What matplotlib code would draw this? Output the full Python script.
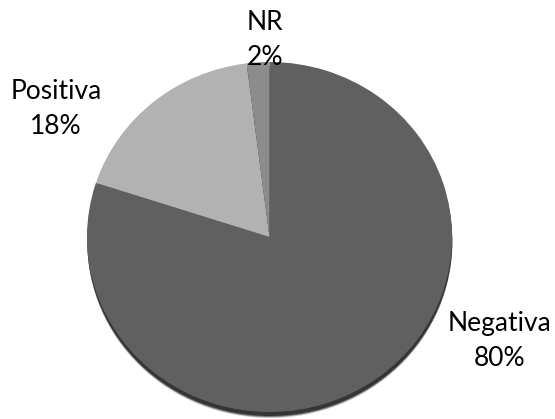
import matplotlib
matplotlib.use("Agg")
import matplotlib.pyplot as plt
from matplotlib.patches import Ellipse

categories = ["Negativa", "Positiva", "NR"]
values = [80, 18, 2]
colors = ["#606060", "#b2b2b2", "#8c8c8c"]

W, H = 555, 419
fig = plt.figure(figsize=(W / 100, H / 100), dpi=100)
ax = fig.add_axes([0, 0, 1, 1])

# pie centre and radii in pixels
cx, cy = 269.5, 237.0
rx, ry = 182.5, 175.0

# soft drop shadow under the pie
for off, a in [(6, 0.25), (5, 0.5), (4, 0.85)]:
    ax.add_patch(Ellipse((0.3 / rx, -off / ry), 2, 2, facecolor="#2a2a2a",
                         edgecolor="none", alpha=a, zorder=0))

ax.pie(values, colors=colors, startangle=90, counterclock=False, radius=1,
       wedgeprops=dict(linewidth=0, zorder=1), normalize=True)

ax.set_xlim(-cx / rx, (W - cx) / rx)
ax.set_ylim(-(H - cy) / ry, cy / ry)
ax.set_aspect("auto")
ax.axis("off")

font = dict(family=["Lato", "DejaVu Sans"], fontsize=19, color="#000000",
            ha="center", va="center", linespacing=1.5)


def put(x, y, s):
    fig.text(x / W, 1 - y / H, s, **font)


for name, v, (x, y) in zip(categories, values,
                           [(500, 341), (56, 109), (265, 40)]):
    put(x, y, f"{name}\n{v}%")

fig.savefig("out.png", dpi=100)
